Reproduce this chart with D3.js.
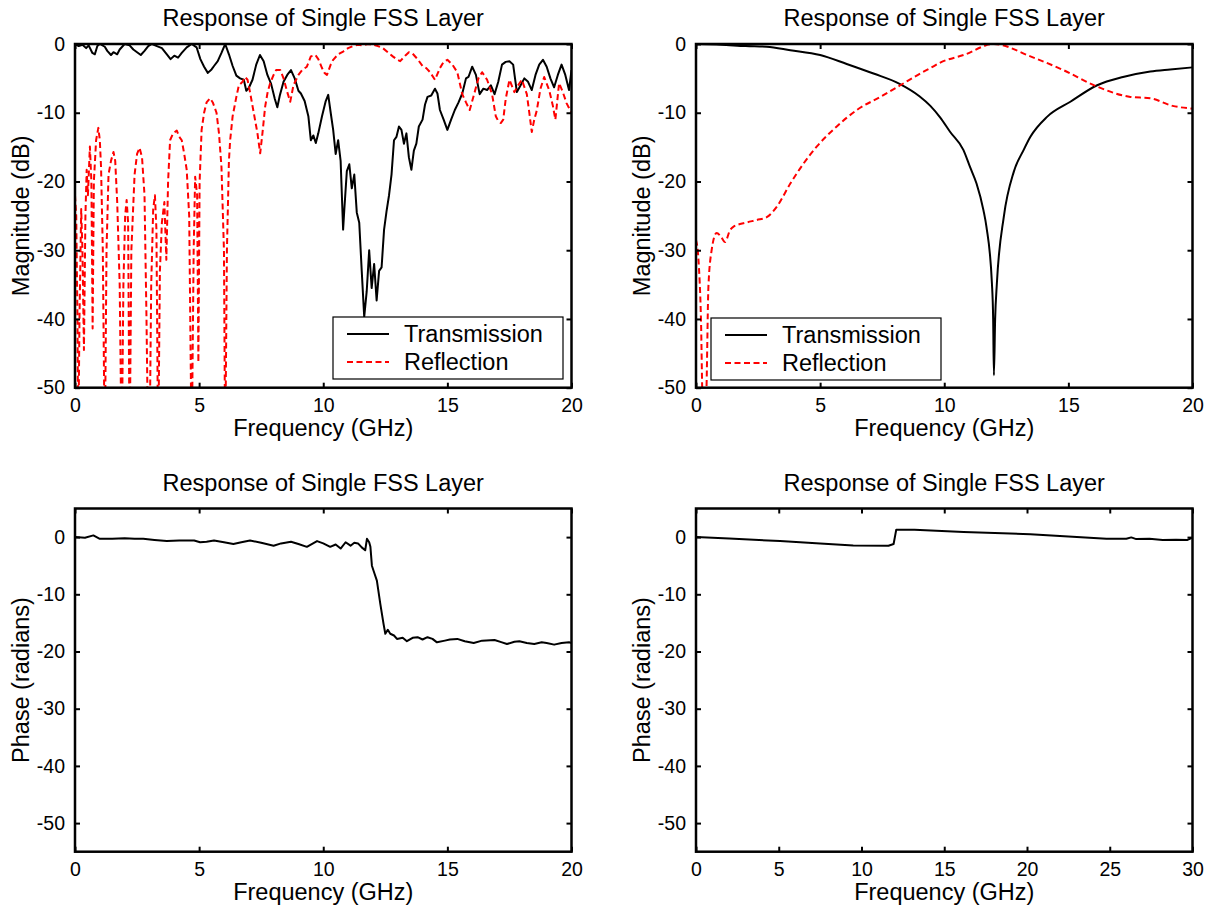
<!DOCTYPE html>
<html>
<head>
<meta charset="utf-8">
<script src="https://cdn.jsdelivr.net/npm/d3@7"></script>
<style>
  body { margin: 0; background: #fff; }
  svg { display: block; font-family: "Liberation Sans", Arial, sans-serif; }
</style>
</head>
<body>
<div id="chart"></div>
<script>
// ---- data ----

// top-left: measured transmission (dB)
const tlTransFreq = [0,0.15,0.3,0.45,0.55,0.7,0.8,0.9,1.0,1.2,1.3,1.45,1.55,1.7,1.8,2.0,2.2,2.35,2.5,2.65,2.8,2.95,3.1,3.3,3.5,3.7,3.85,4.0,4.15,4.3,4.5,4.7,4.9,5.05,5.2,5.35,5.5,5.6,5.75,5.9,6.05,6.2,6.35,6.5,6.65,6.8,6.9,7.0,7.15,7.3,7.45,7.6,7.75,7.9,8.05,8.15,8.25,8.4,8.55,8.7,8.85,9.0,9.1,9.25,9.4,9.5,9.6,9.7,9.8,9.95,10.1,10.2,10.3,10.4,10.5,10.6,10.7,10.8,10.85,10.95,11.05,11.15,11.25,11.35,11.45,11.55,11.65,11.75,11.85,11.95,12.05,12.15,12.25,12.35,12.45,12.55,12.65,12.75,12.85,12.95,13.05,13.15,13.25,13.35,13.45,13.55,13.65,13.75,13.85,14.0,14.1,14.2,14.35,14.5,14.6,14.7,14.85,15.0,15.15,15.3,15.45,15.6,15.75,15.85,16.0,16.15,16.3,16.45,16.6,16.75,16.9,17.05,17.2,17.35,17.5,17.65,17.8,17.95,18.1,18.25,18.4,18.55,18.7,18.85,19.0,19.15,19.3,19.45,19.6,19.75,19.9,20.0];
const tlTransDb = [0,-0.3,-0.1,-0.6,-0.2,-1.3,-1.5,-0.3,0,-0.4,-1.0,-1.6,-1.2,-1.5,-0.8,0,-0.2,-0.8,-1.2,-1.6,-1.0,-0.3,0,-0.3,-0.6,-1.5,-2.2,-1.7,-2.0,-1.3,-0.5,0,-0.5,-2.2,-3.3,-4.2,-3.7,-3.2,-2.5,-1.3,0,-1.5,-3.2,-4.6,-5.0,-5.2,-6.8,-6.4,-5.2,-3.0,-1.6,-2.5,-4.5,-5.8,-8.0,-9.2,-7.5,-5.5,-4.5,-3.8,-5.0,-6.8,-7.2,-8.3,-10.5,-14.0,-13.3,-14.4,-13.0,-10.5,-8.3,-7.4,-10.0,-12.5,-16.0,-14.0,-17.0,-27.0,-24.0,-18.5,-17.5,-21.0,-19.0,-24.5,-26.0,-33.0,-39.7,-36.0,-30.0,-35.5,-32.0,-37.3,-33.0,-32.5,-27.0,-24.3,-22.0,-19.0,-14.0,-13.5,-12.0,-12.5,-14.5,-13.0,-16.5,-18.3,-15.5,-14.5,-12.0,-11.0,-8.8,-7.7,-7.5,-6.5,-7.2,-9.6,-11.0,-12.5,-11.0,-9.6,-8.5,-7.2,-5.0,-4.8,-3.3,-4.5,-7.3,-6.5,-6.7,-6.0,-7.3,-5.5,-3.0,-2.6,-2.5,-3.0,-7.0,-6.0,-5.0,-5.5,-6.7,-4.5,-3.0,-2.3,-3.3,-5.0,-6.3,-4.5,-3.0,-4.5,-6.7,-3.8];

// top-left: measured reflection (dB)
const tlReflFreq = [0,0.05,0.1,0.13,0.18,0.25,0.3,0.36,0.42,0.47,0.52,0.6,0.66,0.71,0.76,0.85,0.94,1.0,1.05,1.12,1.2,1.27,1.35,1.45,1.55,1.62,1.7,1.8,1.88,1.95,2.02,2.08,2.14,2.2,2.27,2.4,2.5,2.6,2.7,2.8,2.88,2.95,3.0,3.07,3.15,3.22,3.28,3.35,3.42,3.5,3.6,3.68,3.75,3.83,3.95,4.1,4.2,4.3,4.4,4.5,4.6,4.7,4.78,4.84,4.92,4.97,5.02,5.1,5.2,5.3,5.44,5.55,5.7,5.8,5.9,6.0,6.05,6.12,6.2,6.25,6.35,6.5,6.6,6.75,6.85,6.95,7.05,7.2,7.35,7.46,7.55,7.66,7.76,7.86,8.0,8.1,8.27,8.4,8.55,8.67,8.8,9.0,9.15,9.34,9.5,9.68,9.8,9.95,10.05,10.15,10.3,10.4,10.6,10.8,11.0,11.2,11.4,11.6,11.8,12.0,12.2,12.4,12.6,12.8,12.95,13.1,13.3,13.45,13.6,13.8,14.0,14.15,14.3,14.5,14.7,14.85,15.0,15.2,15.4,15.6,15.75,15.9,16.1,16.25,16.4,16.6,16.8,16.95,17.05,17.15,17.25,17.35,17.5,17.7,17.85,18.0,18.2,18.3,18.4,18.5,18.6,18.75,18.9,19.1,19.25,19.35,19.5,19.65,19.8,19.9,20.0];
const tlReflDb = [-22,-25,-40,-60,-40,-24,-30,-44.5,-25,-18.3,-22,-14.9,-20,-41.4,-20,-14,-12.2,-14,-18,-30,-60,-30,-19,-17,-15.7,-17,-23,-35,-60,-35,-25,-22.7,-26,-60,-30,-19,-16,-15.1,-16.5,-22,-40,-60,-60,-35,-24,-22,-27,-60,-33,-26,-23,-31.4,-20,-14,-13,-12.6,-13.5,-14,-16,-18.3,-25,-60,-30,-19.3,-22,-46.3,-20,-12.5,-10,-8.5,-7.9,-8.5,-10,-13,-17.9,-30,-60,-30,-17,-14,-10.5,-7.7,-6.0,-5.5,-4.8,-5.2,-7.0,-10,-13,-15.9,-13,-9.1,-7,-5.7,-4.5,-3.8,-3.8,-5,-7,-8.4,-6,-4.5,-3.8,-3.3,-1.8,-1.6,-2.2,-3.5,-4.2,-4.5,-3.0,-2.3,-1.5,-1.1,-0.6,-0.3,-0.1,-0.2,0,-0.1,-0.3,-0.6,-1.2,-1.8,-2.2,-2.5,-1.7,-1.2,-1.4,-2.2,-3.2,-3.5,-4.1,-5.2,-3.5,-2.6,-2.3,-3.0,-4.1,-7.3,-8.5,-9.6,-7.0,-5.0,-4.1,-5.2,-7.3,-10.5,-11.2,-11.5,-11.0,-8.0,-5.2,-7.0,-6.0,-5.2,-7.3,-10,-12.8,-11,-9.7,-6.5,-4.8,-6.7,-9,-11,-5.7,-7,-8.6,-9.3,-10];

// top-right: simulated transmission / reflection (dB)
const trTransFreq = [0,1,2,2.85,3.8,5.0,6.07,7.15,8.2,9.0,9.44,9.84,10.24,10.77,11.05,11.3,11.58,11.7,11.92,11.97,12.0,12.05,12.12,12.4,12.8,13.2,13.47,14.14,15.08,16.16,17.2,18.3,19.1,20];
const trTransDb = [0,-0.1,-0.3,-0.4,-0.9,-1.6,-2.9,-4.3,-5.8,-7.6,-9.0,-10.7,-12.8,-15.4,-18.0,-20.3,-24.2,-26.6,-34.8,-40,-48.2,-40,-34.8,-25.1,-18.6,-15.4,-13.5,-10.6,-8.4,-6.0,-4.8,-4.0,-3.7,-3.4];
const trReflFreq = [0,0.1,0.2,0.27,0.4,0.5,0.63,0.83,1.0,1.17,1.37,1.5,2.0,2.45,2.85,3.25,3.8,4.33,4.87,5.67,6.48,7.42,8.23,9.03,9.44,9.84,10.78,12.0,13.47,14.8,16.16,17.5,18.3,19.2,20];
const trReflDb = [-28.5,-31.4,-40,-52,-52,-35.3,-30,-27.5,-28,-28.8,-27.1,-26.6,-26,-25.6,-25.2,-23.7,-20.3,-17.4,-14.9,-12.0,-9.6,-7.7,-6.0,-4.3,-3.5,-2.7,-1.6,0,-1.8,-3.8,-6.2,-7.7,-7.9,-9.0,-9.4];

// bottom-left: measured phase (radians)
const blFreq = [0,0.4,0.74,1.0,1.5,2.0,2.4,2.75,3.2,3.7,4.2,4.8,5.04,5.3,5.6,6.0,6.38,6.7,7.05,7.5,8.0,8.3,8.7,9.0,9.34,9.75,10.0,10.28,10.5,10.7,10.9,11.1,11.25,11.4,11.55,11.69,11.76,11.85,11.9,11.96,12.05,12.16,12.3,12.43,12.5,12.6,12.7,12.85,12.97,13.2,13.37,13.6,13.8,14.0,14.2,14.4,14.58,14.9,15.1,15.4,15.7,16.06,16.4,16.9,17.2,17.4,17.7,17.9,18.2,18.5,18.8,19.0,19.3,19.6,19.9,20];
const blPhase = [0,-0.1,0.3,-0.3,-0.3,-0.2,-0.3,-0.3,-0.5,-0.7,-0.6,-0.6,-0.9,-0.8,-0.6,-0.9,-1.2,-0.9,-0.6,-1.0,-1.5,-1.1,-0.8,-1.2,-1.7,-0.7,-1.1,-1.7,-1.3,-2.0,-0.9,-1.5,-1.0,-1.1,-1.8,-2.3,-0.3,-0.9,-1.7,-5.0,-6.2,-7.6,-11.7,-15.2,-16.9,-16.2,-16.9,-17.2,-17.8,-17.6,-18.2,-17.6,-17.5,-17.9,-17.5,-17.8,-18.4,-18.1,-17.9,-17.8,-18.2,-18.5,-18.1,-18.0,-18.4,-18.7,-18.3,-18.2,-18.5,-18.7,-18.4,-18.5,-18.8,-18.5,-18.4,-18.5];

// bottom-right: simulated phase (radians)
const brFreq = [0,2,5.08,7.5,9.5,11.63,11.94,12.1,13.2,16.17,20.2,24.8,26.0,26.3,26.6,27.4,28.2,29.0,29.7,30];
const brPhase = [0,-0.25,-0.7,-1.1,-1.45,-1.5,-1.2,1.3,1.3,0.9,0.5,-0.3,-0.3,-0.05,-0.35,-0.3,-0.5,-0.45,-0.5,-0.1];

const titleText = "Response of Single FSS Layer";
const xLabel = "Frequency (GHz)";
const magTicks = [0, -10, -20, -30, -40, -50];
const phaseTicks = [0, -10, -20, -30, -40, -50];
const freqTicks20 = [0, 5, 10, 15, 20];
const freqTicks30 = [0, 5, 10, 15, 20, 25, 30];
const legendNames = ["Transmission", "Reflection"];

// ---- drawing ----
const W = 1210, H = 909;
const svg = d3.select("#chart").append("svg")
  .attr("width", W).attr("height", H);

const zip = (fs, vs) => fs.map((f, i) => [f, vs[i]]);

let clipId = 0;
function panel(p) {
  const x = d3.scaleLinear().domain(p.xDomain).range([p.left, p.left + p.w]);
  const y = d3.scaleLinear().domain(p.yDomain).range([p.top + p.h, p.top]);
  const g = svg.append("g");

  // clip so deep nulls run off the axes like the original
  const cid = "clip" + (clipId++);
  svg.append("clipPath").attr("id", cid)
    .append("rect").attr("x", p.left).attr("y", p.top).attr("width", p.w).attr("height", p.h);

  const lines = g.append("g").attr("clip-path", "url(#" + cid + ")");
  p.series.forEach(s => {
    const line = d3.line().x(d => x(d[0])).y(d => y(d[1]))
      .curve(s.smooth ? d3.curveMonotoneX : d3.curveLinear);
    lines.append("path")
      .datum(s.data)
      .attr("fill", "none")
      .attr("stroke", s.color)
      .attr("stroke-width", 2)
      .attr("stroke-linejoin", "round")
      .attr("stroke-dasharray", s.dash ? "6,3.5" : null)
      .attr("d", line);
  });

  // axes - ticks point inward, mirrored on top/right
  const fmt = d => String(d);
  g.append("g").attr("transform", `translate(0,${p.top + p.h})`)
    .call(d3.axisBottom(x).tickValues(p.xTicks).tickSizeInner(-5).tickSizeOuter(0).tickPadding(10).tickFormat(fmt));
  g.append("g").attr("transform", `translate(0,${p.top})`)
    .call(d3.axisTop(x).tickValues(p.xTicks).tickSizeInner(-5).tickSizeOuter(0).tickFormat(""));
  g.append("g").attr("transform", `translate(${p.left},0)`)
    .call(d3.axisLeft(y).tickValues(p.yTicks).tickSizeInner(-5).tickSizeOuter(0).tickPadding(10).tickFormat(fmt));
  g.append("g").attr("transform", `translate(${p.left + p.w},0)`)
    .call(d3.axisRight(y).tickValues(p.yTicks).tickSizeInner(-5).tickSizeOuter(0).tickFormat(""));

  g.selectAll(".domain").remove();
  g.selectAll(".tick line").attr("stroke", "#000").attr("stroke-width", 2);
  g.selectAll(".tick text").attr("fill", "#000").style("font-size", "19.5px");

  g.append("rect")
    .attr("x", p.left).attr("y", p.top).attr("width", p.w).attr("height", p.h)
    .attr("fill", "none").attr("stroke", "#000").attr("stroke-width", 2.5);

  g.append("text")
    .attr("x", p.left + p.w / 2).attr("y", p.top - 18)
    .attr("text-anchor", "middle").style("font-size", "23.5px")
    .text(titleText);

  g.append("text")
    .attr("x", p.left + p.w / 2).attr("y", p.top + p.h + 48)
    .attr("text-anchor", "middle").style("font-size", "23.5px")
    .text(xLabel);

  g.append("text")
    .attr("transform", `translate(${p.left - 46},${p.top + p.h / 2}) rotate(-90)`)
    .attr("text-anchor", "middle").style("font-size", "23.5px")
    .text(p.yLabel);

  if (p.legend) {
    const L = p.legend;
    const lg = g.append("g").attr("transform", `translate(${L.x},${L.y})`);
    lg.append("rect").attr("width", 230).attr("height", 62)
      .attr("fill", "#fff").attr("stroke", "#000").attr("stroke-width", 1.2);
    p.series.forEach((s, i) => {
      const yy = 17 + i * 28;
      lg.append("line").attr("x1", 14).attr("x2", 56).attr("y1", yy).attr("y2", yy)
        .attr("stroke", s.color).attr("stroke-width", 2)
        .attr("stroke-dasharray", s.dash ? "6,3.5" : null);
      lg.append("text").attr("x", 71).attr("y", yy + 8)
        .style("font-size", "23.5px").text(legendNames[i]);
    });
  }
}

const pw = 496.5, ph = 343.7, pwb = 496.5, phb = 343.2;

panel({
  left: 75, top: 44, w: pw, h: ph,
  xDomain: [0, 20], yDomain: [-50, 0], xTicks: freqTicks20, yTicks: magTicks,
  yLabel: "Magnitude (dB)",
  series: [
    { data: zip(tlTransFreq, tlTransDb), color: "#000" },
    { data: zip(tlReflFreq, tlReflDb), color: "#ff0000", dash: true }
  ],
  legend: { x: 333, y: 317 }
});

panel({
  left: 696, top: 44, w: pw, h: ph,
  xDomain: [0, 20], yDomain: [-50, 0], xTicks: freqTicks20, yTicks: magTicks,
  yLabel: "Magnitude (dB)",
  series: [
    { data: zip(trTransFreq, trTransDb), color: "#000", smooth: true },
    { data: zip(trReflFreq, trReflDb), color: "#ff0000", dash: true, smooth: true }
  ],
  legend: { x: 711, y: 318 }
});

panel({
  left: 75, top: 508.5, w: pwb, h: phb,
  xDomain: [0, 20], yDomain: [-55, 5], xTicks: freqTicks20, yTicks: phaseTicks,
  yLabel: "Phase (radians)",
  series: [ { data: zip(blFreq, blPhase), color: "#000" } ]
});

panel({
  left: 696, top: 508.5, w: pwb, h: phb,
  xDomain: [0, 30], yDomain: [-55, 5], xTicks: freqTicks30, yTicks: phaseTicks,
  yLabel: "Phase (radians)",
  series: [ { data: zip(brFreq, brPhase), color: "#000" } ]
});
</script>
</body>
</html>
